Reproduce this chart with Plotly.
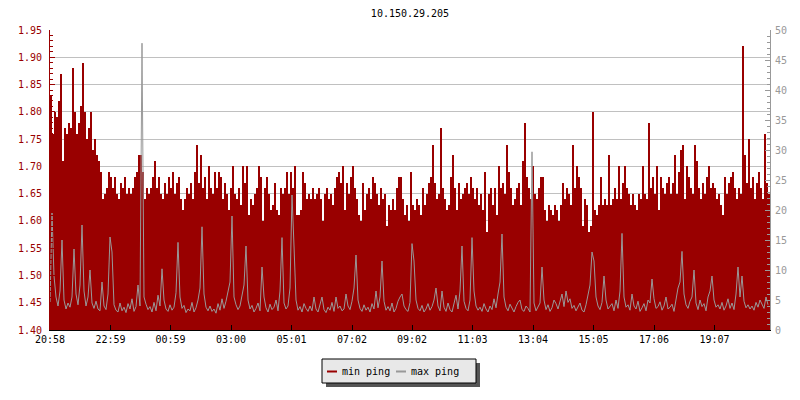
import pandas as pd
import plotly.graph_objects as go

title_text = "10.150.29.205"
start_time = "2024-01-01 20:58"
sample_minutes = 4

tick_labels = ["20:58", "22:59", "00:59", "03:00", "05:01", "07:02",
               "09:02", "11:03", "13:04", "15:05", "17:06", "19:07"]
tick_days = [0, 0, 1, 1, 1, 1, 1, 1, 1, 1, 1, 1]

series_names = ["min ping", "max ping"]

min_ping = [
    1.83, 1.76, 1.80, 1.79, 1.82, 1.87, 1.71, 1.77, 1.76, 1.78,
    1.77, 1.88, 1.80, 1.76, 1.78, 1.81, 1.89, 1.80, 1.75, 1.77,
    1.80, 1.73, 1.75, 1.72, 1.71, 1.69, 1.64, 1.65, 1.66, 1.69,
    1.68, 1.66, 1.68, 1.65, 1.64, 1.67, 1.66, 1.68, 1.65, 1.66,
    1.65, 1.66, 1.68, 1.69, 1.72, 1.72, 1.69, 1.64, 1.66, 1.65,
    1.66, 1.68, 1.71, 1.66, 1.68, 1.65, 1.64, 1.67, 1.65, 1.68,
    1.66, 1.69, 1.65, 1.67, 1.68, 1.64, 1.62, 1.64, 1.66, 1.65,
    1.67, 1.64, 1.69, 1.74, 1.67, 1.72, 1.66, 1.68, 1.64, 1.70,
    1.66, 1.65, 1.69, 1.66, 1.69, 1.68, 1.64, 1.67, 1.65,
    1.62, 1.66, 1.70, 1.65, 1.64, 1.66, 1.63, 1.70, 1.67, 1.70,
    1.61, 1.64, 1.63, 1.65, 1.66, 1.70, 1.68, 1.60, 1.66, 1.68,
    1.65, 1.62, 1.63, 1.67, 1.62, 1.61, 1.66, 1.65, 1.66, 1.69,
    1.65, 1.69, 1.66, 1.70, 1.61, 1.61, 1.62, 1.69, 1.67, 1.64,
    1.65, 1.64, 1.66, 1.64, 1.65, 1.66, 1.64, 1.60, 1.65, 1.66,
    1.64, 1.65, 1.63, 1.66, 1.68, 1.69, 1.67, 1.70, 1.62, 1.67,
    1.65, 1.68, 1.70, 1.66, 1.64, 1.61, 1.60, 1.67, 1.62, 1.65,
    1.66, 1.64, 1.68, 1.67, 1.65, 1.63, 1.66, 1.64, 1.65, 1.59,
    1.63, 1.62, 1.64, 1.62, 1.66, 1.68, 1.68, 1.64, 1.61, 1.63,
    1.60, 1.69, 1.63, 1.62, 1.64, 1.63, 1.61, 1.66, 1.63, 1.65,
    1.67, 1.68, 1.74, 1.67, 1.64, 1.65, 1.77, 1.66, 1.64, 1.62,
    1.63, 1.68, 1.72, 1.66, 1.62, 1.67, 1.64, 1.65, 1.66, 1.67,
    1.65, 1.68, 1.66, 1.64, 1.66, 1.63, 1.65, 1.62, 1.69, 1.58,
    1.65, 1.66, 1.63, 1.66, 1.61, 1.70, 1.66, 1.67, 1.65, 1.74,
    1.69, 1.66, 1.63, 1.64, 1.66, 1.67, 1.63, 1.71, 1.78, 1.68,
    1.66, 1.64, 1.70, 1.65, 1.64, 1.66, 1.68, 1.68, 1.62, 1.60,
    1.63, 1.62, 1.61, 1.63, 1.62, 1.60, 1.63, 1.67, 1.64, 1.66,
    1.65, 1.63, 1.74, 1.66, 1.70, 1.68, 1.66, 1.59, 1.64, 1.63,
    1.58, 1.59, 1.80, 1.62, 1.61, 1.63, 1.68, 1.63, 1.64, 1.63,
    1.72, 1.63, 1.64, 1.66, 1.64, 1.70, 1.64, 1.67, 1.70, 1.66,
    1.65, 1.63, 1.65, 1.63, 1.62, 1.65, 1.64, 1.70, 1.65, 1.64,
    1.78, 1.66, 1.68, 1.65, 1.70, 1.62, 1.68, 1.66, 1.65, 1.67,
    1.68, 1.65, 1.67, 1.72, 1.65, 1.69, 1.73, 1.74, 1.64, 1.70,
    1.68, 1.66, 1.65, 1.74, 1.71, 1.66, 1.64, 1.67, 1.65, 1.68,
    1.70, 1.66, 1.67, 1.66, 1.64, 1.65, 1.63, 1.61, 1.68, 1.65,
    1.67, 1.68, 1.69, 1.66, 1.64, 1.66, 1.65, 1.92, 1.72, 1.67,
    1.75, 1.66, 1.68, 1.64, 1.67, 1.69, 1.66, 1.64, 1.76, 1.67,
    1.65,
]

max_ping = [
    4.5, 19.5, 9.0, 5.5, 4.0, 6.5, 15.0, 5.0, 3.5, 4.5,
    3.8, 5.5, 13.5, 6.0, 4.2, 7.5, 17.5, 6.5, 4.0, 5.5,
    10.0, 4.5, 3.6, 4.8, 3.5, 3.2, 8.0, 4.0, 3.4, 6.0,
    15.5, 13.0, 4.2, 3.3, 3.0, 4.5, 3.2, 3.8, 2.9, 4.4,
    3.5, 5.2, 3.1, 3.9, 7.5, 4.0, 47.8, 5.5, 4.3, 3.4,
    3.9, 3.0, 4.6, 3.2, 5.8, 4.0, 10.2, 5.0, 3.5, 3.1,
    4.2, 3.3, 3.8, 6.2, 14.6, 5.5, 3.6, 4.1, 2.9, 3.5,
    3.2, 4.6, 3.0, 3.7, 5.0, 7.0, 17.2, 6.0, 3.8, 3.2,
    4.0, 3.1, 3.5, 2.8, 4.4, 3.3, 5.2, 3.6, 4.8, 6.5,
    8.0, 19.0, 5.5, 4.2, 3.4, 4.0, 6.0, 7.5, 14.0, 5.0,
    3.5, 4.1, 3.0, 3.6, 4.5, 3.2, 10.5, 5.5, 3.7, 3.0,
    4.3, 3.4, 3.8, 5.0, 3.2, 6.5, 15.4, 4.5, 3.5, 4.0,
    7.0, 22.5, 14.0, 5.0, 3.3, 3.9, 3.0, 4.4, 3.6, 3.1,
    4.0, 3.2, 5.5, 3.5, 3.0, 4.2, 5.5, 3.4, 2.9, 3.8,
    3.3, 4.6, 3.1, 5.5, 3.6, 4.0, 3.2, 3.5, 6.0, 4.0,
    3.4, 4.8, 7.0, 12.5, 5.0, 3.6, 3.1, 4.2, 3.3, 3.8,
    3.0, 4.4, 3.5, 6.5, 3.7, 5.5, 11.5, 4.8, 3.3, 3.9,
    3.2, 4.5, 3.0, 3.6, 4.8, 5.5, 6.0, 4.0, 3.4, 3.1,
    4.6, 14.4, 11.5, 5.0, 3.6, 3.2, 4.1, 3.0, 3.5, 4.4,
    3.3, 3.9, 5.0, 7.0, 4.0, 3.2, 6.5, 3.8, 3.1, 4.5,
    3.4, 3.0, 4.2, 5.8, 3.5, 6.5, 14.0, 4.8, 3.6, 3.2,
    5.0, 15.4, 6.5, 4.0, 3.3, 3.8, 3.1, 4.4, 3.5, 3.0,
    4.0, 3.4, 5.2, 3.7, 6.0, 8.0, 16.0, 5.5, 3.8, 3.2,
    4.3, 3.5, 3.0, 3.9, 4.6, 5.0, 3.4, 3.1, 4.0, 3.6,
    3.0, 29.7, 4.5, 3.2, 3.8, 4.5, 10.5, 5.0, 3.4, 4.2,
    3.1, 3.7, 5.0, 4.4, 3.5, 4.8, 6.0, 3.9, 6.5, 4.6,
    5.2, 3.6, 4.1, 3.2, 3.8, 4.5, 3.3, 3.0, 4.2, 6.0,
    7.5, 13.0, 11.5, 5.5, 4.0, 3.4, 4.6, 9.0, 5.0, 3.5,
    3.9, 4.4, 3.2, 5.0, 3.6, 6.5, 16.1, 5.5, 3.8, 4.2,
    3.3, 6.0, 4.0, 3.5, 4.8, 3.1, 3.7, 4.4, 3.2, 5.0,
    4.5, 8.5, 5.2, 3.6, 3.9, 4.7, 3.3, 4.0, 5.5, 3.5,
    3.8, 4.3, 3.1, 5.0, 7.0, 8.0, 13.1, 6.0, 4.2, 3.6,
    4.8, 5.5, 10.0, 4.5, 3.4, 5.0, 3.9, 4.4, 3.2, 5.5,
    6.5, 9.0, 5.0, 3.8, 4.2, 3.5, 4.6, 3.3, 4.0, 5.2,
    3.6, 4.5, 3.4, 6.0, 10.5, 5.5, 9.0, 4.8, 3.7, 4.2,
    3.5, 4.0, 3.3, 4.6, 3.8, 5.0, 4.4, 3.6, 5.5, 4.2,
]

RED = "#990000"
GRAY = "#999999"
FONT = "DejaVu Sans Mono"

W, H = 800, 400
ML, MR, MT, MB = 50, 30, 30, 70
PW, PH = W - ML - MR, H - MT - MB


def px(x):
    return (x - ML) / PW


def py(y):
    return (H - MB - y) / PH


t0 = pd.Timestamp(start_time)
times = pd.date_range(t0, periods=len(min_ping), freq=f"{sample_minutes}min")
t_end = t0 + pd.Timedelta(hours=24)
tick_vals = [pd.Timestamp(f"2024-01-0{1 + d} {lab}") for lab, d in zip(tick_labels, tick_days)]

fig = go.Figure()
fig.add_trace(go.Bar(
    x=times, y=min_ping, name=series_names[0],
    marker=dict(color=RED, line=dict(width=0)),
    width=sample_minutes * 60 * 1000, offset=0, showlegend=False,
))
fig.add_trace(go.Scatter(
    x=times, y=max_ping, name=series_names[1], yaxis="y2",
    mode="lines", line=dict(color=GRAY, width=1), showlegend=False,
))

# legend box (drawn by hand to match the original look)
lx0, lx1, ly0, ly1 = 322, 476, 359, 383
shapes = [
    dict(type="rect", xref="paper", yref="paper",
         x0=px(lx0 + 4), x1=px(lx1 + 4), y0=py(ly0 + 4), y1=py(ly1 + 4),
         fillcolor="#555555", line=dict(width=0)),
    dict(type="rect", xref="paper", yref="paper",
         x0=px(lx0), x1=px(lx1), y0=py(ly0), y1=py(ly1),
         fillcolor="#e8e8e8", line=dict(color="black", width=1)),
    dict(type="line", xref="paper", yref="paper",
         x0=px(327), x1=px(337), y0=py(371.5), y1=py(371.5),
         line=dict(color=RED, width=2)),
    dict(type="line", xref="paper", yref="paper",
         x0=px(396), x1=px(406), y0=py(371.5), y1=py(371.5),
         line=dict(color=GRAY, width=2)),
]
annotations = [
    dict(text=series_names[0], xref="paper", yref="paper", x=px(340), y=py(371),
         xanchor="left", yanchor="middle", showarrow=False,
         font=dict(family=FONT, size=10, color="black")),
    dict(text=series_names[1], xref="paper", yref="paper", x=px(409), y=py(371),
         xanchor="left", yanchor="middle", showarrow=False,
         font=dict(family=FONT, size=10, color="black")),
]

fig.update_layout(
    width=W, height=H,
    margin=dict(l=ML, r=MR, t=MT, b=MB, autoexpand=False),
    paper_bgcolor="white", plot_bgcolor="white",
    font=dict(family=FONT, size=10, color="black"),
    title=dict(text=title_text, x=0.5125, xanchor="center", y=1 - 13 / H, yanchor="middle",
               font=dict(family=FONT, size=10, color="black")),
    bargap=0,
    showlegend=False,
    hovermode=False,
    shapes=shapes,
    annotations=annotations,
    xaxis=dict(type="date", range=[t0, t_end], showgrid=False, zeroline=False,
               automargin=False,
               showline=True, linecolor="black", linewidth=1,
               ticks="inside", ticklen=5, tickcolor="black",
               tickvals=tick_vals, ticktext=tick_labels,
               tickfont=dict(color="black")),
    yaxis=dict(range=[1.40, 1.95], dtick=0.05, tick0=1.40, tickformat=".2f",
               automargin=False,
               showgrid=True, gridcolor="#c0c0c0", gridwidth=1, zeroline=False,
               showline=True, linecolor=RED, linewidth=1,
               ticks="inside", ticklen=5, tickcolor=RED, ticklabelstandoff=5,
               tickfont=dict(color=RED),
               minor=dict(dtick=0.01, ticks="inside", ticklen=3, tickcolor=RED, showgrid=False)),
    yaxis2=dict(range=[0, 50], dtick=5, tick0=0, overlaying="y", side="right",
                automargin=False,
                showgrid=False, zeroline=False,
                showline=True, linecolor=GRAY, linewidth=1,
                ticks="inside", ticklen=5, tickcolor=GRAY, ticklabelstandoff=2,
                tickfont=dict(color=GRAY),
                minor=dict(dtick=1, ticks="inside", ticklen=3, tickcolor=GRAY, showgrid=False)),
)

fig.write_html(
    "out.html",
    config={"displayModeBar": False, "staticPlot": True},
    post_script="document.body.style.margin='0';document.body.style.overflow='hidden';",
)
